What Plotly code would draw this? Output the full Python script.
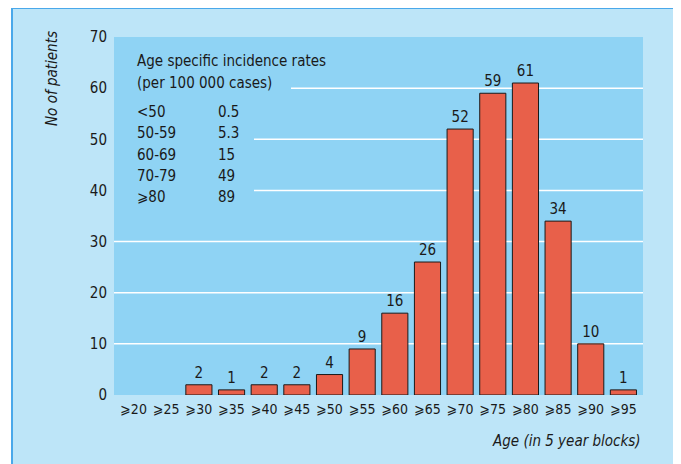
import plotly.graph_objects as go

categories = ["⩾20", "⩾25", "⩾30", "⩾35", "⩾40", "⩾45", "⩾50", "⩾55",
              "⩾60", "⩾65", "⩾70", "⩾75", "⩾80", "⩾85", "⩾90", "⩾95"]
patients = [0, 0, 2, 1, 2, 2, 4, 9, 16, 26, 52, 59, 61, 34, 10, 1]

rate_groups = ["<50", "50-59", "60-69", "70-79", "⩾80"]
rate_values = ["0.5", "5.3", "15", "49", "89"]

y_ticks = [0, 10, 20, 30, 40, 50, 60, 70]

FONT = "DejaVu Sans Condensed, Liberation Sans Narrow, sans-serif"
FS = 15
OUTER = "#bde5f8"
PLOT = "#8fd3f4"
BAR = "#e8604a"
TXT = "#1a1a1a"

OFF = 8  # page body margin
W, H = 681 - OFF, 464 - OFF
L, R, T, B = 114 - OFF, 681 - 643, 37 - OFF, 464 - 395
PW, PH = W - L - R, H - T - B

def px(x):
    return (x - OFF - L) / PW

def py(y):
    return (OFF + T + PH - y) / PH

fig = go.Figure()
fig.add_trace(go.Bar(
    x=list(range(len(categories))),
    y=[v if v else None for v in patients],
    text=[str(v) if v else "" for v in patients],
    textposition="outside",
    textfont=dict(family=FONT, size=FS, color=TXT),
    marker=dict(color=BAR, line=dict(color="#1a1a1a", width=1)),
    cliponaxis=False,
    width=0.8,
    hoverinfo="skip",
))

shapes = [
    dict(type="rect", xref="paper", yref="paper", x0=px(12), x1=px(677),
         y0=py(8), y1=py(480), fillcolor=OUTER, line=dict(color="#4aa8ea", width=2),
         layer="below"),
    dict(type="rect", xref="paper", yref="paper", x0=0, x1=1, y0=0, y1=1,
         fillcolor=PLOT, line=dict(width=0), layer="below"),
]
grid_start = {60: px(291), 50: px(254), 40: px(254)}
for v in y_ticks[1:-1]:
    shapes.append(dict(type="line", xref="paper", yref="y", x0=grid_start.get(v, 0), x1=1,
                       y0=v, y1=v, line=dict(color="white", width=1.5), layer="below"))

def note(text, x, y, xanchor="left", **kw):
    d = dict(text=text, xref="paper", yref="paper", x=px(x), y=py(y), showarrow=False,
             font=dict(family=FONT, size=FS, color=TXT), xanchor=xanchor, yanchor="middle")
    d.update(kw)
    return d

annotations = [
    note("<i>No of patients</i>", 52, 79, xanchor="center", textangle=-90),
    note("<i>Age (in 5 year blocks)</i>", 643, 441, xanchor="right"),
    note("Age specific incidence rates", 135, 61),
    note("(per 100 000 cases)", 135, 83),
]
for i, (g, r) in enumerate(zip(rate_groups, rate_values)):
    yy = 112 + i * 21.3
    annotations.append(note(g, 135, yy))
    annotations.append(note(r, 216, yy))

fig.update_layout(
    width=W, height=H,
    margin=dict(l=L, r=R, t=T, b=B),
    paper_bgcolor="white",
    plot_bgcolor="rgba(0,0,0,0)",
    showlegend=False,
    shapes=shapes,
    annotations=annotations,
    font=dict(family=FONT, size=FS, color=TXT),
    xaxis=dict(range=[-0.6, 15.6], tickvals=list(range(len(categories))), ticktext=categories,
               showgrid=False, zeroline=False, showline=False, ticks="", ticklabelstandoff=4,
               tickfont=dict(family=FONT, size=14, color=TXT)),
    yaxis=dict(range=[0, 70], tickvals=y_ticks, showgrid=False, zeroline=False,
               showline=False, ticks="", ticklabelstandoff=6,
               tickfont=dict(family=FONT, size=FS, color=TXT)),
)

fig.write_html(
    "out.html",
    post_script="document.documentElement.style.overflow='hidden';document.body.style.overflow='hidden';",
)
